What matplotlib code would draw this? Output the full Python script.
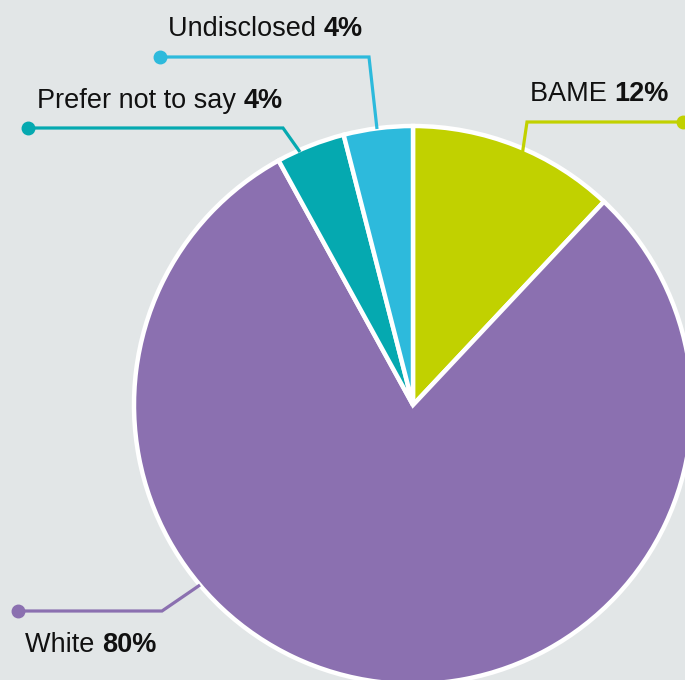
import matplotlib
matplotlib.use("Agg")
import matplotlib.pyplot as plt

categories = ["BAME", "White", "Prefer not to say", "Undisclosed"]
values = [12, 80, 4, 4]
colors = ["#c1d100", "#8b70b0", "#05a9b0", "#2dbadc"]

H = 680
fig = plt.figure(figsize=(6.85, 6.80), dpi=100)
bg = "#e2e6e7"
fig.patch.set_facecolor(bg)
ax = fig.add_axes([0, 0, 1, 1])
ax.set_facecolor(bg)

cx, cy, r = 413, H - 405, 279
ax.pie(values, colors=colors, startangle=90, counterclock=False,
       center=(cx, cy), radius=r, frame=True,
       wedgeprops=dict(edgecolor="white", linewidth=3.2, joinstyle="miter"))
ax.set_xlim(0, 685)
ax.set_ylim(0, H)
ax.set_aspect("equal")
ax.axis("off")

lw = 2.3
leaders = [
    ([(517, 190), (527, 122), (690, 122)], (683, 122), colors[0]),
    ([(200, 585), (162, 611), (18, 611)], (18, 611), colors[1]),
    ([(300, 152), (283, 128), (28, 128)], (28, 128), colors[2]),
    ([(377, 129), (369, 57), (160, 57)], (160, 57), colors[3]),
]
for pts, dot, c in leaders:
    xs = [p[0] for p in pts]
    ys = [H - p[1] for p in pts]
    ax.plot(xs, ys, color=c, lw=lw, solid_capstyle="butt", solid_joinstyle="miter", clip_on=False)
    ax.plot([dot[0]], [H - dot[1]], "o", color=c, ms=9, clip_on=False)

fam = ["Liberation Sans", "DejaVu Sans"]
fs = 19.5
labels = [
    ("BAME ", "12%", 530, 94),
    ("White ", "80%", 25, 645),
    ("Prefer not to say ", "4%", 37, 101),
    ("Undisclosed ", "4%", 168, 29),
]
for name, pct, x, y in labels:
    t = ax.text(x, H - y, name, fontsize=fs, family=fam, color="#111111",
                va="center", ha="left")
    fig.canvas.draw()
    bb = t.get_window_extent()
    x2 = bb.x1
    ax.text(x2, H - y, pct, fontsize=fs, family=fam, color="#111111",
            va="center", ha="left", fontweight="bold")

fig.savefig("out.png", dpi=100, facecolor=bg)
